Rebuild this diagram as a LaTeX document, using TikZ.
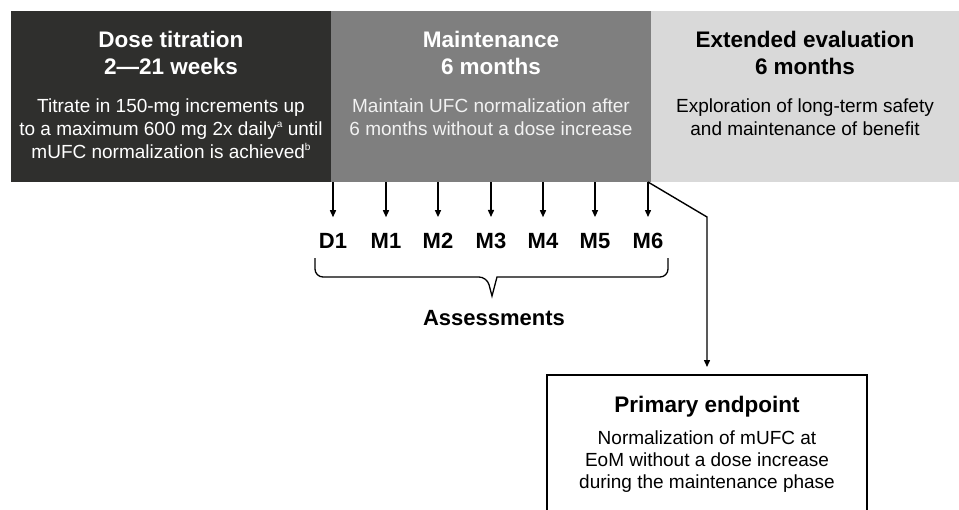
\documentclass[tikz,border=0pt]{standalone}
\usepackage{fontspec}
\setmainfont{Liberation Sans}
\usetikzlibrary{positioning,arrows.meta}

\definecolor{darkphase}{HTML}{2F2F2D}
\definecolor{midphase}{HTML}{7F7F7F}
\definecolor{lightphase}{HTML}{D9D9D9}
\definecolor{paletext}{HTML}{F2F2F2}

\newcommand{\fnmark}[1]{\raisebox{0.42em}{\fontsize{10}{10}\selectfont #1}}

\begin{document}
\begin{tikzpicture}[
    x=1pt, y=-1pt,
    phase/.style={rectangle, minimum width=320pt, minimum height=171pt, inner sep=0pt, outer sep=0pt, anchor=north west},
    title/.style={inner sep=0pt, align=center, font=\fontsize{22.5}{27}\selectfont\bfseries},
    body/.style={inner sep=0pt, align=center, font=\fontsize{19}{23}\selectfont},
    visit/.style={inner sep=0pt, font=\fontsize{22}{26}\selectfont\bfseries},
    endbox/.style={rectangle, draw, line width=1.5pt, minimum width=320pt, minimum height=200pt, anchor=north},
    arrow/.style={-{Triangle[length=7pt,width=6pt]}, line width=1.4pt},
    bracket/.style={line width=1.3pt}
]

\useasboundingbox (0,0) rectangle (959,509);
\clip (0,0) rectangle (959,509);

% Phase boxes
\node[phase, fill=darkphase] (titration) at (11,11) {};
\node[phase, fill=midphase, right=0pt of titration] (maint) {};
\node[phase, fill=lightphase, minimum width=308pt, right=0pt of maint] (extended) {};

% Phase texts
\node[title, text=white, below=20pt of titration.north] (titrationtitle) {Dose titration\\2—21 weeks};
\node[body, text=white, below=24pt of titrationtitle.south] (titrationbody) {Titrate in 150-mg increments up\\to a maximum 600 mg 2x daily\fnmark{a} until\\mUFC normalization is achieved\fnmark{b}};

\node[title, text=white, below=20pt of maint.north] (mainttitle) {Maintenance\\6 months};
\node[body, text=paletext, below=24pt of mainttitle.south] (maintbody) {Maintain UFC normalization after\\6 months without a dose increase};

\node[title, below=20pt of extended.north] (extendedtitle) {Extended evaluation\\6 months};
\node[body, below=24pt of extendedtitle.south] (extendedbody) {Exploration of long-term safety\\and maintenance of benefit};

% Visits
\node[visit] (d1) at (333,241) {D1};
\node[visit] (m1) at (386,241) {M1};
\node[visit] (m2) at (438,241) {M2};
\node[visit] (m3) at (491,241) {M3};
\node[visit] (m4) at (543,241) {M4};
\node[visit] (m5) at (595,241) {M5};
\node[visit] (m6) at (648,241) {M6};

% Visit arrows
\draw[arrow, shorten >=16pt] (d1 |- titration.south) -- (d1.north);
\draw[arrow, shorten >=16pt] (m1 |- maint.south) -- (m1.north);
\draw[arrow, shorten >=16pt] (m2 |- maint.south) -- (m2.north);
\draw[arrow, shorten >=16pt] (m3 |- maint.south) -- (m3.north);
\draw[arrow, shorten >=16pt] (m4 |- maint.south) -- (m4.north);
\draw[arrow, shorten >=16pt] (m5 |- maint.south) -- (m5.north);
\draw[arrow, shorten >=16pt] (m6 |- maint.south) -- (m6.north);

% Bracket
\draw[bracket] (315,258) [rounded corners=8pt] -- (315,277) -- (487,277) [sharp corners] -- (492,296) -- (497,277) [rounded corners=8pt] -- (668,277) -- (668,258);
\node[visit] (assess) at (494,318) {Assessments};

% Primary endpoint
\node[endbox] (endpoint) at (707,374) {};
\node[title, below=22pt of endpoint.north] (endtitle) {Primary endpoint};
\node[body, font=\fontsize{19}{22}\selectfont, below=13pt of endtitle.south] (endbody) {Normalization of mUFC at\\EoM without a dose increase\\during the maintenance phase};

\coordinate (bend) at (707,217);
\draw[arrow, shorten >=7pt] (m6 |- maint.south) -- (bend) -- (endpoint.north);

\end{tikzpicture}
\end{document}
